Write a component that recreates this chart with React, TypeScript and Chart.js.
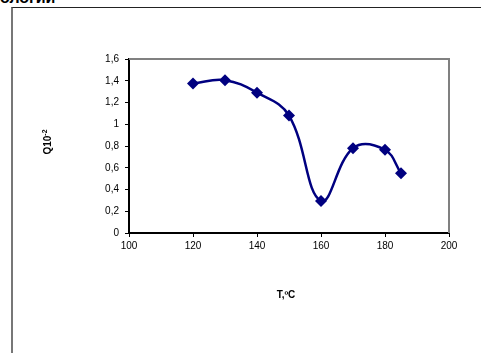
import React, { useEffect, useRef } from "react";
import { Chart, registerables } from "chart.js";

Chart.register(...registerables);

const temperatures = [120, 130, 140, 150, 160, 170, 180, 185];
const qValues = [1.375, 1.405, 1.29, 1.08, 0.295, 0.78, 0.765, 0.55];
const xTicks = [100, 120, 140, 160, 180, 200];
const yTicks = [0, 0.2, 0.4, 0.6, 0.8, 1, 1.2, 1.4, 1.6];
const xTitle = "T,ºC";
const yTitleMain = "Q10";
const yTitleSup = "-2";

const titlesPlugin = {
  id: "customTitles",
  afterDraw(chart: any) {
    const ctx = chart.ctx;
    const area = chart.chartArea;
    ctx.save();
    ctx.strokeStyle = "#808080";
    ctx.lineWidth = 2;
    ctx.beginPath();
    ctx.moveTo(area.left, area.top);
    ctx.lineTo(area.right, area.top);
    ctx.lineTo(area.right, area.bottom);
    ctx.stroke();
    ctx.fillStyle = "#000";
    ctx.font = "bold 10px Arial, 'Liberation Sans', sans-serif";
    ctx.textAlign = "center";
    ctx.textBaseline = "middle";
    ctx.fillText(xTitle, 286, 295);
    ctx.translate(48, 142);
    ctx.rotate(-Math.PI / 2);
    const mainW = ctx.measureText(yTitleMain).width;
    ctx.font = "bold 7px Arial, 'Liberation Sans', sans-serif";
    const supW = ctx.measureText(yTitleSup).width;
    const total = mainW + supW;
    ctx.font = "bold 10px Arial, 'Liberation Sans', sans-serif";
    ctx.textAlign = "left";
    ctx.fillText(yTitleMain, -total / 2, 0);
    ctx.font = "bold 7px Arial, 'Liberation Sans', sans-serif";
    ctx.fillText(yTitleSup, -total / 2 + mainW, -3);
    ctx.restore();
  },
};

export default function App() {
  const canvasRef = useRef<HTMLCanvasElement | null>(null);

  useEffect(() => {
    document.body.style.margin = "0";
    const canvas = canvasRef.current;
    if (!canvas) return;
    const chart = new Chart(canvas, {
      type: "scatter",
      data: {
        datasets: [
          {
            data: temperatures.map((t, i) => ({ x: t, y: qValues[i] })),
            showLine: true,
            borderColor: "#000080",
            backgroundColor: "#000080",
            borderWidth: 2.5,
            tension: 0.4,
            pointStyle: "rectRot",
            pointRadius: 6,
            pointHoverRadius: 6,
            pointBackgroundColor: "#000080",
            pointBorderColor: "#000080",
            pointBorderWidth: 0,
          },
        ],
      },
      options: {
        animation: false,
        responsive: false,
        maintainAspectRatio: false,
        events: [],
        layout: { padding: { left: 0, top: 59, right: 32, bottom: 50 } },
        plugins: { legend: { display: false }, tooltip: { enabled: false } },
        scales: {
          x: {
            type: "linear",
            min: 100,
            max: 200,
            afterBuildTicks: (axis: any) => {
              axis.ticks = xTicks.map((v) => ({ value: v }));
            },
            afterFit: (axis: any) => {
              axis.height = 70;
            },
            grid: {
              drawOnChartArea: false,
              drawTicks: true,
              tickLength: 4,
              color: "#000",
              lineWidth: 1,
            },
            border: { display: true, color: "#000", width: 2 },
            ticks: {
              color: "#000",
              padding: 3,
              maxRotation: 0,
              font: { family: "Arial, 'Liberation Sans', sans-serif", size: 10 },
            },
          },
          y: {
            type: "linear",
            min: 0,
            max: 1.6,
            afterBuildTicks: (axis: any) => {
              axis.ticks = yTicks.map((v) => ({ value: v }));
            },
            afterFit: (axis: any) => {
              axis.width = 129;
            },
            grid: {
              drawOnChartArea: false,
              drawTicks: true,
              tickLength: 4,
              color: "#000",
              lineWidth: 1,
            },
            border: { display: true, color: "#000", width: 2 },
            ticks: {
              color: "#000",
              padding: 6,
              font: { family: "Arial, 'Liberation Sans', sans-serif", size: 10 },
              callback: (v: any) => String(Math.round(Number(v) * 10) / 10).replace(".", ","),
            },
          },
        },
      },
      plugins: [titlesPlugin],
    });
    return () => chart.destroy();
  }, []);

  return (
    <div style={{ position: "relative", width: 481, height: 353, overflow: "hidden", background: "#fff" }}>
      <div
        style={{
          position: "absolute",
          left: 0,
          top: -10,
          fontFamily: "Arial, 'Liberation Sans', sans-serif",
          fontSize: 16,
          fontWeight: "bold",
          lineHeight: "16px",
          color: "#000",
          whiteSpace: "nowrap",
        }}
      >
        ологии
      </div>
      <div
        style={{
          position: "absolute",
          left: 11,
          top: 7,
          width: 470,
          height: 346,
          borderTop: "1px solid #222",
          borderLeft: "2px solid #777",
          boxSizing: "border-box",
        }}
      />
      <canvas
        ref={canvasRef}
        width={481}
        height={353}
        style={{ position: "absolute", left: 0, top: 0, width: 481, height: 353 }}
      />
    </div>
  );
}
